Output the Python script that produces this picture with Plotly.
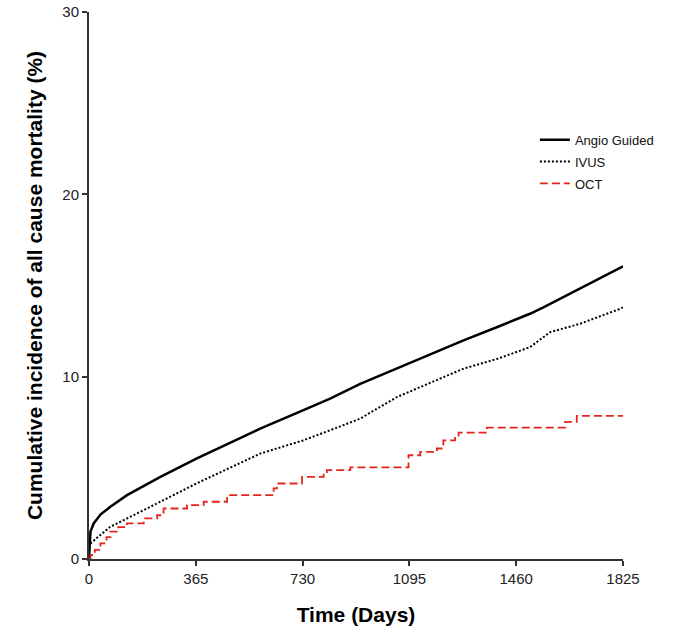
import plotly.graph_objects as go

# Angio Guided (Kaplan-Meier style curve)
angio_days = [0, 2, 5, 16, 40, 73, 130, 244, 367, 480, 585, 731, 824, 927,
              1052, 1180, 1280, 1400, 1507, 1553, 1678, 1825]
angio_pct = [0, 1.0, 1.5, 1.95, 2.45, 2.86, 3.5, 4.5, 5.5, 6.35, 7.15, 8.15,
             8.8, 9.6, 10.44, 11.3, 11.99, 12.75, 13.45, 13.8, 14.85, 16.05]

# IVUS
ivus_days = [0, 1, 30, 73, 187, 367, 585, 731, 824, 927, 1052, 1280, 1400,
             1507, 1576, 1678, 1815, 1825]
ivus_pct = [0, 0.8, 1.2, 1.77, 2.68, 4.14, 5.78, 6.5, 7.06, 7.7, 8.88, 10.44,
            11.0, 11.62, 12.44, 12.9, 13.72, 13.8]

# OCT (step function)
oct_days = [0, 5, 20, 39, 60, 73, 100, 130, 187, 233, 255, 335, 392, 472, 631,
            642, 728, 802, 813, 893, 1092, 1132, 1189, 1211, 1251, 1263, 1360,
            1627, 1667, 1825]
oct_pct = [0, 0.22, 0.5, 0.86, 1.2, 1.5, 1.75, 1.95, 2.23, 2.4, 2.77, 2.96,
           3.14, 3.5, 3.87, 4.14, 4.5, 4.69, 4.87, 5.02, 5.69, 5.87, 6.06, 6.51,
           6.69, 6.93, 7.2, 7.52, 7.85, 7.85]

x_ticks = [0, 365, 730, 1095, 1460, 1825]
y_ticks = [0, 10, 20, 30]

fig = go.Figure()
fig.add_trace(go.Scatter(x=angio_days, y=angio_pct, mode="lines", name="Angio Guided",
                         legendgroup="a", line=dict(color="black", width=2.5)))
fig.add_trace(go.Scatter(x=ivus_days, y=ivus_pct, mode="lines", name="IVUS",
                         legendgroup="b",
                         line=dict(color="black", width=2, dash="2px,2px")))
fig.add_trace(go.Scatter(x=oct_days, y=oct_pct, mode="lines", name="OCT",
                         legendgroup="c",
                         line=dict(color="#e3261d", width=1.8, dash="8px,4px", shape="hv")))

axis_font = dict(family="Liberation Sans, Arial, sans-serif", size=15, color="#222")
fig.update_layout(
    width=675, height=630,
    margin=dict(l=89, r=52, t=12, b=71),
    plot_bgcolor="white", paper_bgcolor="white",
    font=dict(family="Liberation Sans, Arial, sans-serif", color="black"),
    legend=dict(x=0.835, y=0.794, xanchor="left", yanchor="top",
                font=dict(size=13, color="#111"), itemwidth=30,
                tracegroupgap=2, bgcolor="rgba(0,0,0,0)"),
    xaxis=dict(range=[0, 1825], tickvals=x_ticks, ticks="outside", ticklen=5,
               tickwidth=2, tickcolor="#333", showline=True, linewidth=2,
               linecolor="#333", showgrid=False, zeroline=False,
               tickfont=axis_font, automargin=False, ticklabeloverflow="allow",
               title=dict(text="<b>Time (Days)</b>", font=dict(size=21),
                          standoff=21)),
    yaxis=dict(range=[0, 30], tickvals=y_ticks, ticks="outside", ticklen=5,
               tickwidth=2, tickcolor="#333", showline=True, linewidth=2,
               linecolor="#333", showgrid=False, zeroline=False,
               tickfont=axis_font, automargin=False, ticklabeloverflow="allow",
               title=dict(text="<b>Cumulative incidence of all cause mortality (%)</b>",
                          font=dict(size=21), standoff=14)),
)
fig.write_html("out.html", config={"displayModeBar": False},
               post_script="document.body.style.margin='0';")
